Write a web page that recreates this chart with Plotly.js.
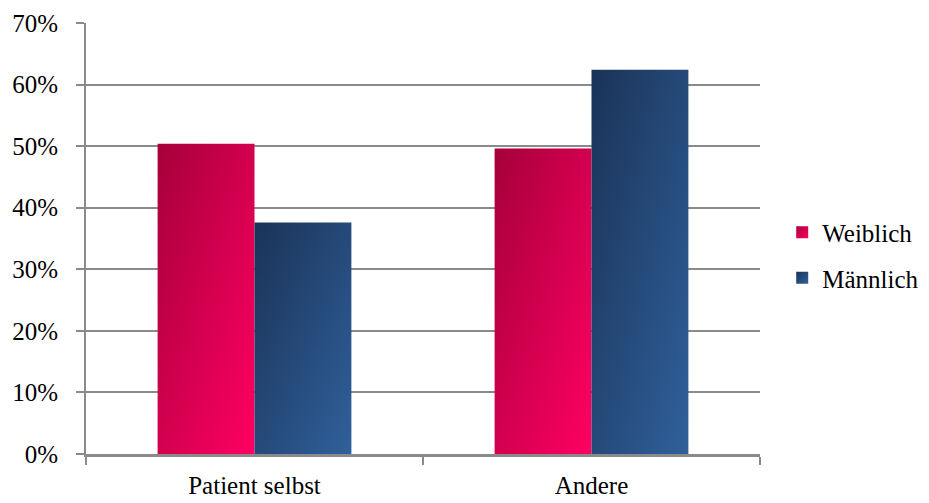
<!DOCTYPE html>
<html>
<head>
<meta charset="utf-8">
<script src="https://cdn.plot.ly/plotly-3.0.1.min.js"></script>
<style>
  html, body { margin: 0; padding: 0; background: #ffffff; }
  #chart { width: 929px; height: 503px; }
</style>
</head>
<body>
<div id="chart"></div>
<script>
// Anteile nach Geschlecht (in Prozent)
const categories = ['Patient selbst', 'Andere'];
const weiblich = [50.4, 49.6];
const maennlich = [37.6, 62.4];
const seriesNames = ['Weiblich', 'Männlich'];
const yTickValues = [0, 10, 20, 30, 40, 50, 60, 70];
const yTickLabels = yTickValues.map(v => v + '%');

// Farbverläufe je Serie: dunkel oben links, hell unten rechts
const gradients = [
  { id: 'gradWeiblich', from: '#a6003a', to: '#ff0062', base: '#e3004f' },
  { id: 'gradMaennlich', from: '#1a3357', to: '#30609b', base: '#27507f' }
];

const serif = '"Liberation Serif", "Times New Roman", serif';
const fontSize = 25;

const traces = [
  { type: 'bar', name: seriesNames[0], x: categories, y: weiblich, legendgroup: 'w',
    marker: { color: gradients[0].base, line: { width: 0 } }, hoverinfo: 'skip' },
  { type: 'bar', name: seriesNames[1], x: categories, y: maennlich, legendgroup: 'm',
    marker: { color: gradients[1].base, line: { width: 0 } }, hoverinfo: 'skip' }
];

const layout = {
  width: 929,
  height: 503,
  margin: { l: 86, r: 169, t: 23, b: 49, pad: 0 },
  paper_bgcolor: '#ffffff',
  plot_bgcolor: '#ffffff',
  barmode: 'group',
  bargap: 0.425,
  bargroupgap: 0,
  font: { family: serif, size: fontSize, color: '#000000' },
  xaxis: {
    type: 'category',
    tickson: 'boundaries',
    ticks: 'outside',
    ticklen: 8,
    tickwidth: 1.5,
    tickcolor: '#8a8a8a',
    showline: true,
    linecolor: '#8a8a8a',
    linewidth: 2.5,
    showgrid: false,
    zeroline: false,
    tickfont: { family: serif, size: fontSize, color: '#000000' },
    ticklabelstandoff: 7,
    fixedrange: true
  },
  yaxis: {
    range: [0, 70],
    tickvals: yTickValues,
    ticktext: yTickLabels,
    ticks: 'outside',
    ticklen: 8,
    tickwidth: 2,
    tickcolor: '#8a8a8a',
    showline: true,
    linecolor: '#8a8a8a',
    linewidth: 2,
    showgrid: true,
    gridcolor: '#8a8a8a',
    gridwidth: 2,
    zeroline: false,
    tickfont: { family: serif, size: fontSize, color: '#000000' },
    ticklabelstandoff: 13,
    fixedrange: true
  },
  showlegend: true,
  legend: {
    xref: 'container',
    yref: 'container',
    x: 0.842,
    xanchor: 'left',
    y: 0.493,
    yanchor: 'middle',
    font: { family: serif, size: fontSize, color: '#000000' },
    traceorder: 'grouped',
    itemwidth: 30,
    tracegroupgap: 10,
    bgcolor: 'rgba(0,0,0,0)'
  }
};

function applyGradients(gd) {
  const svgNS = 'http://www.w3.org/2000/svg';
  const svg = gd.querySelector('.main-svg');
  let defs = svg.querySelector('defs');
  if (!defs) { defs = document.createElementNS(svgNS, 'defs'); svg.insertBefore(defs, svg.firstChild); }
  gradients.forEach(g => {
    if (defs.querySelector('#' + g.id)) return;
    const lg = document.createElementNS(svgNS, 'linearGradient');
    lg.setAttribute('id', g.id);
    lg.setAttribute('x1', '0'); lg.setAttribute('y1', '0');
    lg.setAttribute('x2', '1'); lg.setAttribute('y2', '1');
    const s1 = document.createElementNS(svgNS, 'stop');
    s1.setAttribute('offset', '0'); s1.setAttribute('stop-color', g.from);
    const s2 = document.createElementNS(svgNS, 'stop');
    s2.setAttribute('offset', '1'); s2.setAttribute('stop-color', g.to);
    lg.appendChild(s1); lg.appendChild(s2);
    defs.appendChild(lg);
  });
  gd.querySelectorAll('.barlayer .trace').forEach((t, i) => {
    t.querySelectorAll('path').forEach(p => { p.style.fill = 'url(#' + gradients[i].id + ')'; });
  });
  gd.querySelectorAll('.legend .traces').forEach((t, i) => {
    t.querySelectorAll('.legendpoints path').forEach(p => {
      p.style.fill = 'url(#' + gradients[i].id + ')';
      p.style.stroke = 'none';
    });
  });
}

Plotly.newPlot('chart', traces, layout, { staticPlot: true, displayModeBar: false })
  .then(gd => applyGradients(gd));
</script>
</body>
</html>
